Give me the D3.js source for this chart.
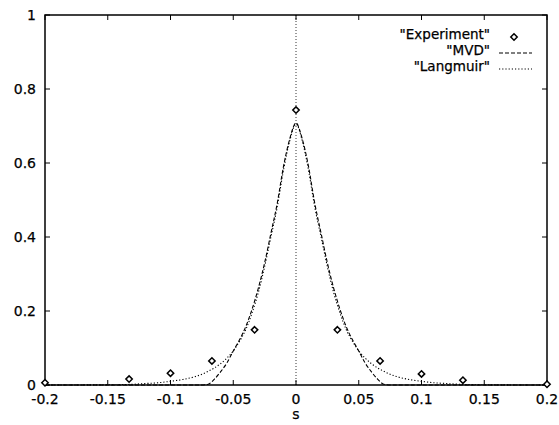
<!DOCTYPE html>
<html>
<head>
<meta charset="utf-8">
<script src="https://cdn.jsdelivr.net/npm/d3@7"></script>
<style>
  body { margin: 0; background: #fff; }
  svg text { font-family: "DejaVu Sans", Arial, sans-serif; font-size: 14px; stroke: #000; stroke-width: 0.25px; }
  svg text.lg { font-size: 13.5px; }
</style>
</head>
<body>
<svg id="chart" width="559" height="425"></svg>
<script>
// experiment points
const expS = [-0.2, -0.133, -0.1, -0.067, -0.033, 0, 0.033, 0.067, 0.1, 0.133, 0.2];
const expV = [0.006, 0.016, 0.032, 0.065, 0.149, 0.743, 0.149, 0.065, 0.03, 0.013, 0.002];

// curves
const curveS = [-0.2, -0.15, -0.14, -0.13, -0.12, -0.11, -0.1, -0.09, -0.08, -0.075, -0.07, -0.065, -0.06, -0.055, -0.05, -0.045, -0.04, -0.035, -0.03, -0.025, -0.02, -0.015, -0.01, -0.005, 0,
  0.005, 0.01, 0.015, 0.02, 0.025, 0.03, 0.035, 0.04, 0.045, 0.05, 0.055, 0.06, 0.065, 0.07, 0.075, 0.08, 0.09, 0.1, 0.11, 0.12, 0.13, 0.14, 0.15, 0.2];
const mvdV = [0, 0, 0, 0, 0, 0, 0, 0, 0, 0, 0.002, 0.016, 0.036, 0.06, 0.092, 0.122, 0.158, 0.205, 0.262, 0.33, 0.41, 0.49, 0.59, 0.665, 0.708,
  0.665, 0.59, 0.49, 0.41, 0.33, 0.262, 0.205, 0.158, 0.122, 0.092, 0.06, 0.036, 0.016, 0.002, 0, 0, 0, 0, 0, 0, 0, 0, 0, 0];
const langV = [0, 0.0005, 0.001, 0.002, 0.004, 0.006, 0.01, 0.015, 0.023, 0.029, 0.037, 0.046, 0.058, 0.073, 0.092, 0.118, 0.15, 0.195, 0.25, 0.32, 0.4, 0.48, 0.58, 0.66, 0.705,
  0.66, 0.58, 0.48, 0.4, 0.32, 0.25, 0.195, 0.15, 0.118, 0.092, 0.073, 0.058, 0.046, 0.037, 0.029, 0.023, 0.015, 0.01, 0.006, 0.004, 0.002, 0.001, 0.0005, 0];

const xTicks = [-0.2, -0.15, -0.1, -0.05, 0, 0.05, 0.1, 0.15, 0.2];
const yTicks = [0, 0.2, 0.4, 0.6, 0.8, 1];
const legendNames = ['"Experiment"', '"MVD"', '"Langmuir"'];

const svg = d3.select("#chart");
const margin = { top: 15, right: 12, bottom: 40, left: 45 };
const width = 559, height = 425;

const x = d3.scaleLinear().domain([-0.2, 0.2]).range([margin.left, width - margin.right]);
const y = d3.scaleLinear().domain([0, 1]).range([height - margin.bottom, margin.top]);

const fmt = d => (d === 0 ? "0" : String(d));

// zero axis (dotted)
svg.append("line")
  .attr("x1", x(0)).attr("x2", x(0))
  .attr("y1", y(1)).attr("y2", y(0))
  .attr("stroke", "#000").attr("stroke-width", 0.8)
  .attr("stroke-dasharray", "1,2");

// ticks, inward + mirrored
const tl = 5;
xTicks.forEach(function (t) {
  svg.append("line").attr("x1", x(t)).attr("x2", x(t)).attr("y1", y(0)).attr("y2", y(0) - tl).attr("stroke", "#000");
  svg.append("line").attr("x1", x(t)).attr("x2", x(t)).attr("y1", y(1)).attr("y2", y(1) + tl).attr("stroke", "#000");
  svg.append("text")
    .attr("x", x(t)).attr("y", y(0) + 19)
    .attr("text-anchor", "middle")
    .text(fmt(t));
});
yTicks.forEach(function (t) {
  svg.append("line").attr("x1", x(-0.2)).attr("x2", x(-0.2) + tl).attr("y1", y(t)).attr("y2", y(t)).attr("stroke", "#000");
  svg.append("line").attr("x1", x(0.2)).attr("x2", x(0.2) - tl).attr("y1", y(t)).attr("y2", y(t)).attr("stroke", "#000");
  svg.append("text")
    .attr("x", x(-0.2) - 9).attr("y", y(t) + 5)
    .attr("text-anchor", "end")
    .text(fmt(t));
});

// frame
svg.append("rect")
  .attr("x", x(-0.2)).attr("y", y(1))
  .attr("width", x(0.2) - x(-0.2)).attr("height", y(0) - y(1))
  .attr("fill", "none").attr("stroke", "#000").attr("stroke-width", 1.5);

// x label
svg.append("text")
  .attr("x", x(0)).attr("y", y(0) + 34)
  .attr("text-anchor", "middle")
  .text("s");

// curves
const line = d3.line()
  .x(d => x(d[0]))
  .y(d => y(d[1]))
  .curve(d3.curveMonotoneX);

svg.append("path")
  .attr("d", line(curveS.map((s, i) => [s, mvdV[i]])))
  .attr("fill", "none").attr("stroke", "#000").attr("stroke-width", 1.1)
  .attr("stroke-dasharray", "4,2");

svg.append("path")
  .attr("d", line(curveS.map((s, i) => [s, langV[i]])))
  .attr("fill", "none").attr("stroke", "#000").attr("stroke-width", 1.1)
  .attr("stroke-dasharray", "1.2,2");

// experiment diamonds
const diamond = d3.symbol().type(d3.symbolDiamond2).size(26);
svg.selectAll("path.pt")
  .data(expS.map((s, i) => [s, expV[i]]))
  .join("path")
  .attr("class", "pt")
  .attr("d", diamond)
  .attr("transform", d => `translate(${x(d[0])},${y(d[1])})`)
  .attr("fill", "#fff").attr("stroke", "#000").attr("stroke-width", 1.5);

// legend
const lgX = 490;
const lgY = [39, 55, 71];
legendNames.forEach(function (n, i) {
  svg.append("text")
    .attr("class", "lg")
    .attr("x", lgX).attr("y", lgY[i])
    .attr("text-anchor", "end")
    .text(n);
});
svg.append("path")
  .attr("d", diamond)
  .attr("transform", `translate(514,${lgY[0] - 2})`)
  .attr("fill", "#fff").attr("stroke", "#000").attr("stroke-width", 1.5);
svg.append("line")
  .attr("x1", 499).attr("x2", 532).attr("y1", lgY[1] - 2).attr("y2", lgY[1] - 2)
  .attr("stroke", "#000").attr("stroke-width", 1.1).attr("stroke-dasharray", "4,2");
svg.append("line")
  .attr("x1", 499).attr("x2", 532).attr("y1", lgY[2] - 2).attr("y2", lgY[2] - 2)
  .attr("stroke", "#000").attr("stroke-width", 1.1).attr("stroke-dasharray", "1.2,2");
</script>
</body>
</html>
